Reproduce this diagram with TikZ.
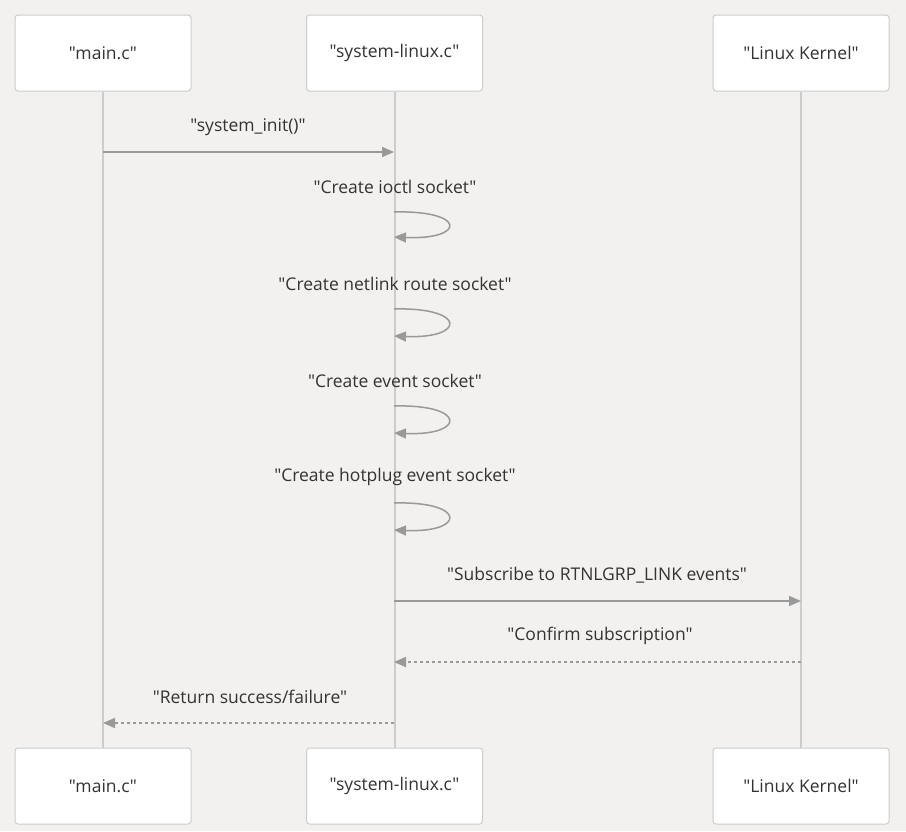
\documentclass[tikz,border=0pt]{standalone}
\usepackage{fontspec}
\setmainfont{Open Sans}[Ligatures=TeXOff]
\usetikzlibrary{arrows.meta}
\definecolor{bg}{HTML}{F2F1EF}
\definecolor{boxline}{HTML}{CCCCCC}
\definecolor{lifeline}{HTML}{CCCCCC}
\definecolor{arr}{HTML}{999999}
\definecolor{txt}{HTML}{333333}

\begin{document}
\begin{tikzpicture}[x=1pt,y=-1pt,
  actor/.style={draw=boxline, fill=white, rounded corners=3pt, line width=1pt,
    minimum width=176pt, minimum height=76pt, text=txt,
    font=\fontsize{17.5}{20}\selectfont},
  lbl/.style={text=txt, font=\fontsize{17.5}{20}\selectfont},
  life/.style={draw=lifeline, line width=2pt},
  msg/.style={draw=arr, line width=1.5pt, -{Triangle[length=12pt,width=10pt]}},
  reply/.style={msg, dash pattern=on 3pt off 3pt}]
\path[fill=bg] (0,0) rectangle (906,831);

% participants
\node[actor] (mainT) at (103,53) {"main.c"};
\node[actor] (sysT) at (394.5,53) {"system-linux.c"};
\node[actor] (kernT) at (801,53) {"Linux Kernel"};
\node[actor] (mainB) at (103,786) {"main.c"};
\node[actor] (sysB) at (394.5,786) {"system-linux.c"};
\node[actor] (kernB) at (801,786) {"Linux Kernel"};

% lifelines
\draw[life] (mainT) -- (mainB);
\draw[life] (sysT) -- (sysB);
\draw[life] (kernT) -- (kernB);

% points on lifelines
\coordinate (m1a) at (103,152);
\coordinate (m1b) at (394,152);
\coordinate (s1a) at (394,212);
\coordinate (s1b) at (394,237);
\coordinate (s2a) at (394,309);
\coordinate (s2b) at (394,336);
\coordinate (s3a) at (394,406);
\coordinate (s3b) at (394,433);
\coordinate (s4a) at (394,503);
\coordinate (s4b) at (394,530);
\coordinate (k1a) at (394,601);
\coordinate (k1b) at (801,601);
\coordinate (k2a) at (801,662);
\coordinate (k2b) at (394,662);
\coordinate (r1a) at (394,723);
\coordinate (r1b) at (103,723);

% messages
\node[lbl] (t1) at (248,127) {"system\_init()"};
\draw[msg] (m1a) -- (m1b);

\node[lbl] (t2) at (395,187) {"Create ioctl socket"};
\draw[msg] (s1a) .. controls (467,210) and (466,240) .. (s1b);

\node[lbl] (t3) at (395,284) {"Create netlink route socket"};
\draw[msg] (s2a) .. controls (467,307) and (466,339) .. (s2b);

\node[lbl] (t4) at (395,381) {"Create event socket"};
\draw[msg] (s3a) .. controls (467,404) and (466,436) .. (s3b);

\node[lbl] (t5) at (395,477) {"Create hotplug event socket"};
\draw[msg] (s4a) .. controls (467,501) and (466,533) .. (s4b);

\node[lbl] (t6) at (597,575) {"Subscribe to RTNLGRP\_LINK events"};
\draw[msg] (k1a) -- (k1b);

\node[lbl] (t7) at (600,636) {"Confirm subscription"};
\draw[reply] (k2a) -- (k2b);

\node[lbl] (t8) at (250,697) {"Return success/failure"};
\draw[reply] (r1a) -- (r1b);
\end{tikzpicture}
\end{document}
